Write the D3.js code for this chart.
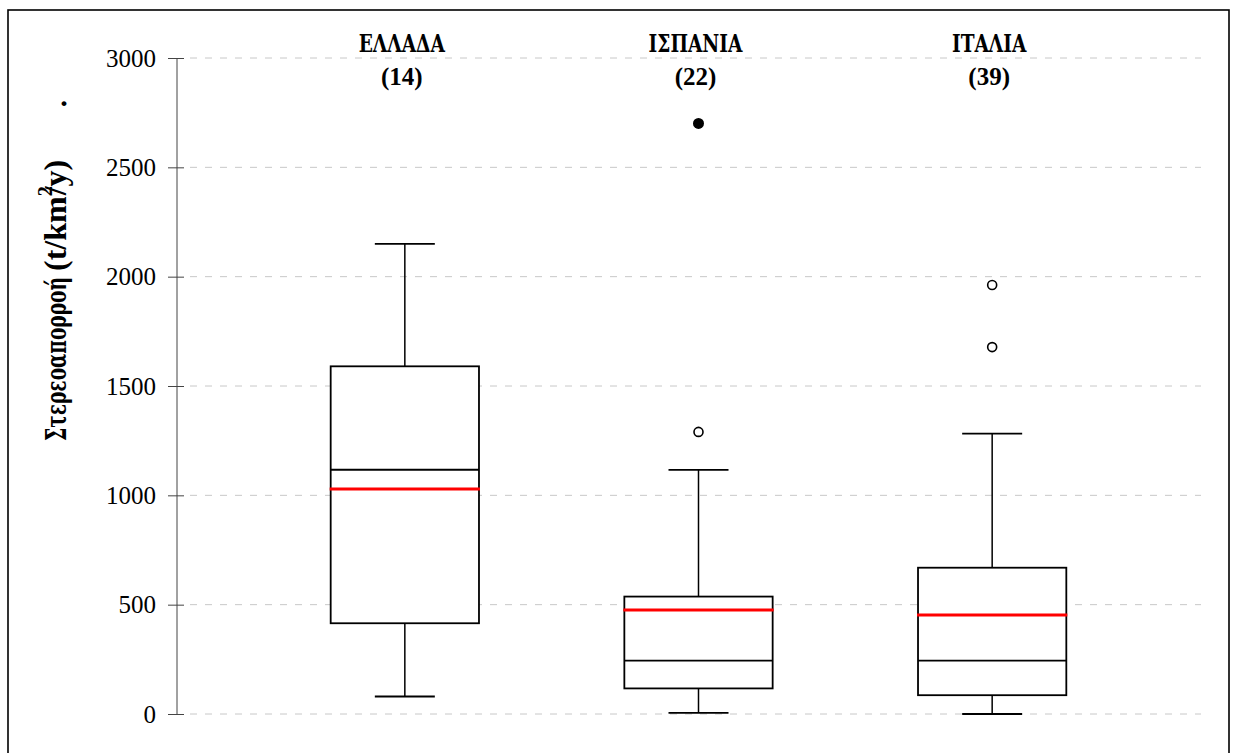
<!DOCTYPE html>
<html lang="el">
<head>
<meta charset="UTF-8">
<title>Στερεοαπορροή</title>
<script src="https://d3js.org/d3.v7.min.js"></script>
<style>
    body { margin: 0; background: #fff; }
    svg { display: block; font-family: "Liberation Serif", "DejaVu Serif", serif; }
</style>
</head>
<body>
<svg width="1233" height="753"></svg>
<script>
    // values
    const countries = ["ΕΛΛΑΔΑ", "ΙΣΠΑΝΙΑ", "ΙΤΑΛΙΑ"];
    const counts = [14, 22, 39];
    const whiskerLow = [80, 5, 0];
    const q1 = [415, 117, 86];
    const median = [1117, 244, 244];
    const mean = [1029, 476, 453];
    const q3 = [1590, 537, 669];
    const whiskerHigh = [2150, 1116, 1282];
    const outliers = [[], [1290], [1678, 1962]];
    const extremes = [[], [2701], []];
    const yTicks = [0, 500, 1000, 1500, 2000, 2500, 3000];

    const greekFont = "'DejaVu Serif Condensed', 'DejaVu Serif', serif";
    const svg = d3.select("svg");

    // outer frame
    svg.append("rect")
        .attr("x", 8).attr("y", 10)
        .attr("width", 1221).attr("height", 760)
        .attr("fill", "none")
        .attr("stroke", "#000")
        .attr("stroke-width", 1.6);

    const x = d3.scalePoint().domain(countries).range([258, 1139]).padding(0.5);
    const y = d3.scaleLinear().domain([0, 3000]).range([714, 58]);
    const boxW = x.step() * 0.505;
    const capW = 60;

    // grid
    svg.append("g")
        .selectAll("line")
        .data(yTicks)
        .join("line")
        .attr("x1", 190).attr("x2", 1201)
        .attr("y1", d => y(d)).attr("y2", d => y(d))
        .attr("stroke", "#c8c8c8")
        .attr("stroke-width", 1)
        .attr("stroke-dasharray", "7,8");

    // y axis
    const axis = svg.append("g")
        .attr("transform", "translate(177,0)")
        .call(d3.axisLeft(y).tickValues(yTicks).tickSize(9).tickPadding(12).tickFormat(d3.format("d")));
    axis.select(".domain").attr("stroke", "#444").attr("d", `M0,${y(3000)}V${y(0)}`);
    axis.selectAll(".tick line").attr("x1", 7).attr("stroke", "#444");
    axis.selectAll(".tick text")
        .attr("font-size", 25)
        .attr("font-family", "Liberation Serif, serif")
        .attr("fill", "#000");

    // y title (greek part squeezed to Times-like width)
    const tg = svg.append("g")
        .attr("transform", "translate(66,0) rotate(-90)")
        .attr("font-weight", "bold");
    tg.append("text")
        .attr("x", -441)
        .attr("font-family", greekFont)
        .attr("font-size", 27)
        .attr("textLength", 164)
        .attr("lengthAdjust", "spacingAndGlyphs")
        .text("Στερεοαπορροή");
    const lat = tg.append("text")
        .attr("x", -271)
        .attr("font-family", "'Liberation Serif', serif")
        .attr("font-size", 32);
    lat.append("tspan").text("(t/km");
    lat.append("tspan").attr("dy", -14).attr("font-size", 20).text("2");
    lat.append("tspan").attr("dy", 14).attr("dx", -9).text("/y)");

    // stray dot above the title
    svg.append("text")
        .attr("x", 64).attr("y", 106)
        .attr("text-anchor", "middle")
        .attr("font-size", 30)
        .attr("font-weight", "bold")
        .text(".");

    const groups = svg.append("g")
        .selectAll("g")
        .data(countries)
        .join("g");

    // whiskers
    groups.append("line")
        .attr("x1", d => x(d)).attr("x2", d => x(d))
        .attr("y1", (d, i) => y(whiskerHigh[i])).attr("y2", (d, i) => y(q3[i]))
        .attr("stroke", "#000").attr("stroke-width", 1.5);
    groups.append("line")
        .attr("x1", d => x(d)).attr("x2", d => x(d))
        .attr("y1", (d, i) => y(q1[i])).attr("y2", (d, i) => y(whiskerLow[i]))
        .attr("stroke", "#000").attr("stroke-width", 1.5);
    groups.append("line")
        .attr("x1", d => x(d) - capW / 2).attr("x2", d => x(d) + capW / 2)
        .attr("y1", (d, i) => y(whiskerHigh[i])).attr("y2", (d, i) => y(whiskerHigh[i]))
        .attr("stroke", "#000").attr("stroke-width", 1.8);
    groups.append("line")
        .attr("x1", d => x(d) - capW / 2).attr("x2", d => x(d) + capW / 2)
        .attr("y1", (d, i) => y(whiskerLow[i])).attr("y2", (d, i) => y(whiskerLow[i]))
        .attr("stroke", "#000").attr("stroke-width", 1.8);

    // boxes
    groups.append("rect")
        .attr("x", d => x(d) - boxW / 2)
        .attr("width", boxW)
        .attr("y", (d, i) => y(q3[i]))
        .attr("height", (d, i) => y(q1[i]) - y(q3[i]))
        .attr("fill", "#fff")
        .attr("stroke", "#000")
        .attr("stroke-width", 1.8);

    // median
    groups.append("line")
        .attr("x1", d => x(d) - boxW / 2).attr("x2", d => x(d) + boxW / 2)
        .attr("y1", (d, i) => y(median[i])).attr("y2", (d, i) => y(median[i]))
        .attr("stroke", "#000").attr("stroke-width", 1.8);

    // mean
    groups.append("line")
        .attr("x1", d => x(d) - boxW / 2 - 1).attr("x2", d => x(d) + boxW / 2 + 1)
        .attr("y1", (d, i) => y(mean[i])).attr("y2", (d, i) => y(mean[i]))
        .attr("stroke", "#ff0000").attr("stroke-width", 3);

    // outliers
    groups.selectAll(".out")
        .data((d, i) => outliers[i].map(v => ({ c: d, v })))
        .join("circle")
        .attr("class", "out")
        .attr("cx", p => x(p.c)).attr("cy", p => y(p.v))
        .attr("r", 4.5)
        .attr("fill", "#fff").attr("stroke", "#000").attr("stroke-width", 1.6);
    groups.selectAll(".ext")
        .data((d, i) => extremes[i].map(v => ({ c: d, v })))
        .join("circle")
        .attr("class", "ext")
        .attr("cx", p => x(p.c)).attr("cy", p => y(p.v))
        .attr("r", 5.5)
        .attr("fill", "#000");

    // country labels
    groups.append("text")
        .attr("x", d => x(d) - 3).attr("y", 52)
        .attr("text-anchor", "middle")
        .attr("font-family", greekFont)
        .attr("font-size", 24).attr("font-weight", "bold")
        .text(d => d)
        .each(function () {
            const w = this.getComputedTextLength();
            d3.select(this).attr("textLength", w * 0.86).attr("lengthAdjust", "spacingAndGlyphs");
        });
    groups.append("text")
        .attr("x", d => x(d) - 3).attr("y", 85)
        .attr("text-anchor", "middle")
        .attr("font-size", 25).attr("font-weight", "bold")
        .text((d, i) => `(${counts[i]})`);
</script>
</body>
</html>
